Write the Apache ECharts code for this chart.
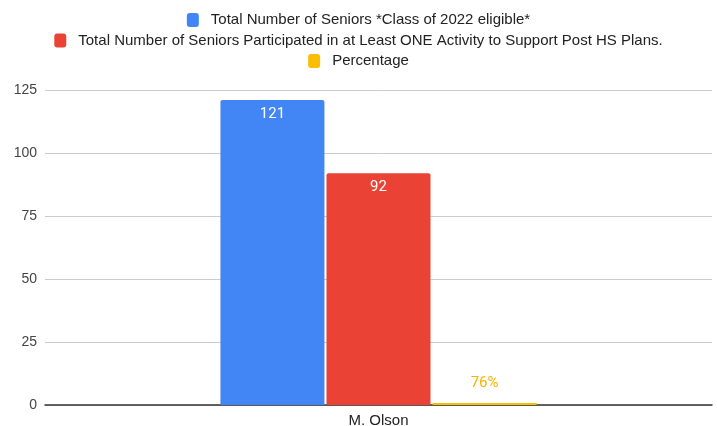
<!DOCTYPE html>
<html>
<head>
<meta charset="utf-8">
<script src="https://cdn.jsdelivr.net/npm/echarts@6/dist/echarts.min.js"></script>
<style>html,body{margin:0;padding:0;background:#fff}#c{width:717px;height:426px}</style>
</head>
<body>
<div id="c"></div>
<script>
const categories = ['M. Olson'];
const seriesNames = [
  'Total Number of Seniors *Class of 2022 eligible*',
  'Total Number of Seniors Participated in at Least ONE Activity to Support Post HS Plans.',
  'Percentage'
];
const seniors = [121];
const participated = [92];
const percentage = [0.76];
const yTicks = { min: 0, max: 125, interval: 25 };

const colors = ['#4285f4', '#ea4335', '#fbbc04'];
const legendFont = { fontFamily: 'Liberation Sans, Arial, sans-serif', fontSize: 15, color: '#222', padding: [0, 0, 0, 7] };

const chart = echarts.init(document.getElementById('c'), null, { renderer: 'canvas' });
chart.setOption({
  animation: false,
  color: colors,
  legend: seriesNames.map((n, i) => ({
    data: [n],
    top: 7.5 + i * 20.5,
    left: 'center',
    itemWidth: 12,
    itemHeight: 14,
    itemStyle: { borderRadius: 2 },
    textStyle: legendFont,
    selectedMode: false
  })),
  grid: { left: 45, right: 5, top: 90, bottom: 21, containLabel: false, outerBoundsMode: 'none' },
  xAxis: {
    type: 'category',
    data: categories,
    axisTick: { show: false },
    axisLine: { lineStyle: { color: '#333', width: 1.5 } },
    axisLabel: { fontFamily: 'Liberation Sans, Arial, sans-serif', fontSize: 15, color: '#222', margin: 8 }
  },
  yAxis: {
    type: 'value',
    min: yTicks.min, max: yTicks.max, interval: yTicks.interval,
    axisLine: { show: false },
    axisTick: { show: false },
    splitLine: { lineStyle: { color: '#ccc', width: 1 } },
    axisLabel: { fontFamily: 'Liberation Sans, Arial, sans-serif', fontSize: 14, color: '#444', margin: 8 }
  },
  series: [
    {
      name: seriesNames[0], type: 'bar', data: seniors, barWidth: 104, barGap: '2%',
      itemStyle: { borderRadius: [2, 2, 0, 0] },
      label: { show: true, position: 'insideTop', distance: 7, color: '#fff', fontFamily: 'Roboto, sans-serif', fontSize: 15 }
    },
    {
      name: seriesNames[1], type: 'bar', data: participated, barWidth: 104, barGap: '2%',
      itemStyle: { borderRadius: [2, 2, 0, 0] },
      label: { show: true, position: 'insideTop', distance: 7, color: '#fff', fontFamily: 'Roboto, sans-serif', fontSize: 15 }
    },
    {
      name: seriesNames[2], type: 'bar', data: percentage, barWidth: 104, barGap: '2%',
      label: {
        show: true, position: 'top', distance: 12, color: '#f4b400', fontFamily: 'Roboto, sans-serif', fontSize: 15,
        formatter: p => Math.round(p.value * 100) + '%'
      }
    }
  ]
});
</script>
</body>
</html>
